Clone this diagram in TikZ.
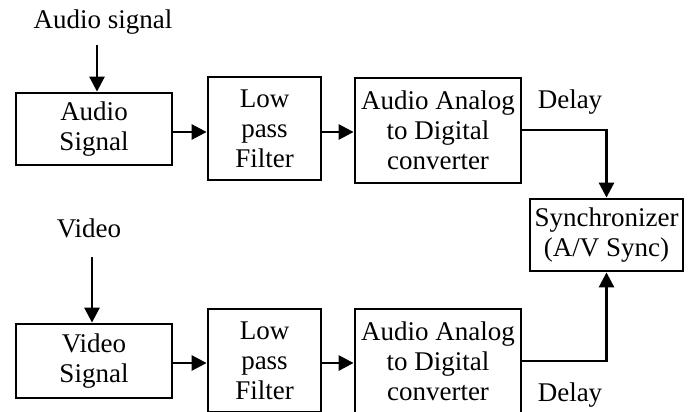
\documentclass[tikz,border=0pt]{standalone}
\usepackage{fontspec}
\setmainfont{Liberation Serif}
\usetikzlibrary{arrows.meta}
\begin{document}
\begin{tikzpicture}[x=1pt,y=-1pt,
  blk/.style={draw,line width=2.8pt,align=center,inner sep=0pt,font=\fontsize{27}{30}\selectfont},
  lbl/.style={inner sep=0pt,font=\fontsize{27}{30}\selectfont},
  conn/.style={line width=2.8pt,-{Triangle[length=15pt,width=15pt]}}]
\useasboundingbox (0,0) rectangle (693,412);
\clip (0,0) rectangle (693,412);
\node[blk,minimum width=156pt,minimum height=72pt] (as) at (94,129) {Audio\\Signal};
\node[blk,minimum width=113pt,minimum height=103pt] (lpf1) at (264.5,128.5) {Low\\pass\\Filter};
\node[blk,minimum width=166pt,minimum height=105pt] (adc1) at (438,130.5) {Audio Analog\\to Digital\\converter};
\node[blk,minimum width=153pt,minimum height=72pt] (sync) at (606.5,235) {Synchronizer\\(A/V Sync)};
\node[blk,minimum width=156pt,minimum height=74pt] (vs) at (94,361) {Video\\Signal};
\node[blk,minimum width=113pt,minimum height=103pt] (lpf2) at (264.5,360.5) {Low\\pass\\Filter};
\node[blk,minimum width=166pt,minimum height=105pt] (adc2) at (438,361.5) {Audio Analog\\to Digital\\converter};
\node[lbl] (ain) at (103,22) {Audio signal};
\node[lbl] (vin) at (89,228) {Video};
\node[lbl] (d1) at (570,102) {Delay};
\node[lbl] (d2) at (570,395) {Delay};
\coordinate (ainS) at (97,45);
\coordinate (vinS) at (92,257);
\draw[conn] (ainS) -- (ainS |- as.north);
\draw[conn] (vinS) -- (vinS |- vs.north);
\draw[conn] (as.east |- 0,132) -- (lpf1.west |- 0,132);
\draw[conn] (lpf1.east |- 0,132) -- (adc1.west |- 0,132);
\draw[conn] (vs.east |- 0,363) -- (lpf2.west |- 0,363);
\draw[conn] (lpf2.east |- 0,363) -- (adc2.west |- 0,363);
\draw[conn] (adc1.east |- 0,130) -| (sync.north);
\draw[conn] (adc2.east |- 0,361) -| (sync.south);
\end{tikzpicture}
\end{document}
